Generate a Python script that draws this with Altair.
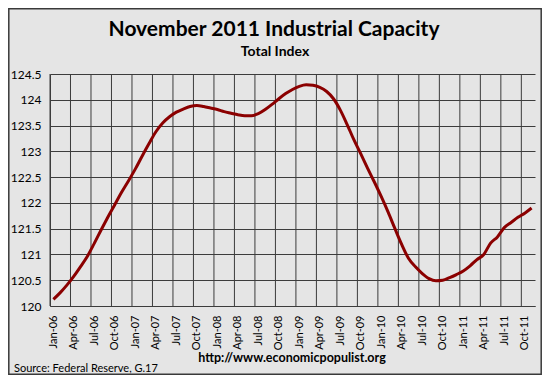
import json
import altair as alt
import pandas as pd

# Monthly total industrial capacity index, Jan-06 .. Nov-11
capacity = [
    120.13, 120.26, 120.41, 120.58, 120.77, 120.97, 121.22, 121.48, 121.73, 121.97,
    122.21, 122.43, 122.66, 122.91, 123.15, 123.38, 123.55, 123.67, 123.76, 123.82,
    123.87, 123.89, 123.87, 123.84, 123.81, 123.77, 123.74, 123.71, 123.69, 123.69,
    123.73, 123.81, 123.91, 124.02, 124.12, 124.20, 124.26, 124.29, 124.28, 124.24,
    124.16, 124.02, 123.80, 123.52, 123.22, 122.95, 122.67, 122.40, 122.12, 121.82,
    121.50, 121.19, 120.92, 120.76, 120.63, 120.53, 120.49, 120.50, 120.55, 120.61,
    120.68, 120.78, 120.90, 121.00, 121.22, 121.34, 121.52, 121.62, 121.72, 121.80,
    121.90,
]
tick_labels = [
    "Jan-06", "Apr-06", "Jul-06", "Oct-06", "Jan-07", "Apr-07", "Jul-07", "Oct-07",
    "Jan-08", "Apr-08", "Jul-08", "Oct-08", "Jan-09", "Apr-09", "Jul-09", "Oct-09",
    "Jan-10", "Apr-10", "Jul-10", "Oct-10", "Jan-11", "Apr-11", "Jul-11", "Oct-11",
]
y_ticks = [120, 120.5, 121, 121.5, 122, 122.5, 123, 123.5, 124, 124.5]

title_text = "November 2011 Industrial Capacity"
subtitle_text = "Total Index"
url_text = "http://www.economicpopulist.org"
source_text = "Source:  Federal Reserve, G.17"

n = len(capacity)
df = pd.DataFrame({"m": list(range(n)), "v": capacity})
# category boundaries every 3 months (gridline positions on the month scale)
grid_df = pd.DataFrame({"g": [3 * k - 0.5 for k in range(len(tick_labels))]})

FONT = "Lato"
GRID = "#3c3c3c"
BG = "#E5E5E5"
W, H = 485, 232

x_scale = alt.Scale(domain=[-0.5, n - 0.5], nice=False, zero=False)
label_expr = json.dumps(tick_labels) + "[datum.value / 3]"
x_axis = alt.Axis(values=[3 * k for k in range(len(tick_labels))],
                  labelExpr=label_expr, labelAngle=270,
                  labelAlign="right", labelBaseline="middle",
                  labelPadding=9, labelOverlap=False, labelFlush=False,
                  labelBound=False, labelFont=FONT, labelFontSize=11,
                  labelColor="#000", ticks=False, grid=False,
                  domain=True, domainColor=GRID, title=None)

vgrid = alt.Chart(grid_df).mark_rule(color=GRID, strokeWidth=1).encode(
    x=alt.X("g:Q", scale=x_scale, axis=x_axis),
)

line = alt.Chart(df).mark_line(
    color="#8B0000", strokeWidth=3, interpolate="monotone"
).encode(
    x=alt.X("m:Q", scale=x_scale, axis=x_axis),
    y=alt.Y("v:Q",
            scale=alt.Scale(domain=[120, 124.5], nice=False, zero=False),
            axis=alt.Axis(values=y_ticks, format="~g", labelFont=FONT,
                          labelFontSize=12, labelColor="#000", labelPadding=9,
                          ticks=False, grid=True, gridColor=GRID, gridWidth=1,
                          domain=True, domainColor=GRID, title=None)),
)

one = pd.DataFrame({"a": [0]})

def txt(text, x, y, size, bold, align="center"):
    return alt.Chart(one).mark_text(
        text=text, font=FONT, fontSize=size,
        fontWeight="bold" if bold else "normal", align=align,
        baseline="alphabetic", color="#000"
    ).encode(x=alt.value(x), y=alt.value(y))

border = alt.Chart(one).mark_rect(
    fill=BG, fillOpacity=0, stroke="#3a3a3a", strokeWidth=1.5
).encode(x=alt.value(-41.2), x2=alt.value(W + 6.2),
         y=alt.value(-65.2), y2=alt.value(H + 68.2))

chart = alt.layer(
    vgrid,
    line,
    txt(title_text, 224, -38, 21, True),
    txt(subtitle_text, 225, -18, 14, True),
    txt(url_text, 242, 288, 12.5, True),
    txt(source_text, -36, 298, 11, False, "left"),
    border,
).properties(
    width=W, height=H,
    autosize=alt.AutoSizeParams(type="none"),
    padding={"left": 42, "top": 66, "right": 7, "bottom": 69},
    background=BG,
).configure_view(stroke=None, fill=BG)

chart.save("out.html", embed_options={"renderer": "svg", "actions": False})
